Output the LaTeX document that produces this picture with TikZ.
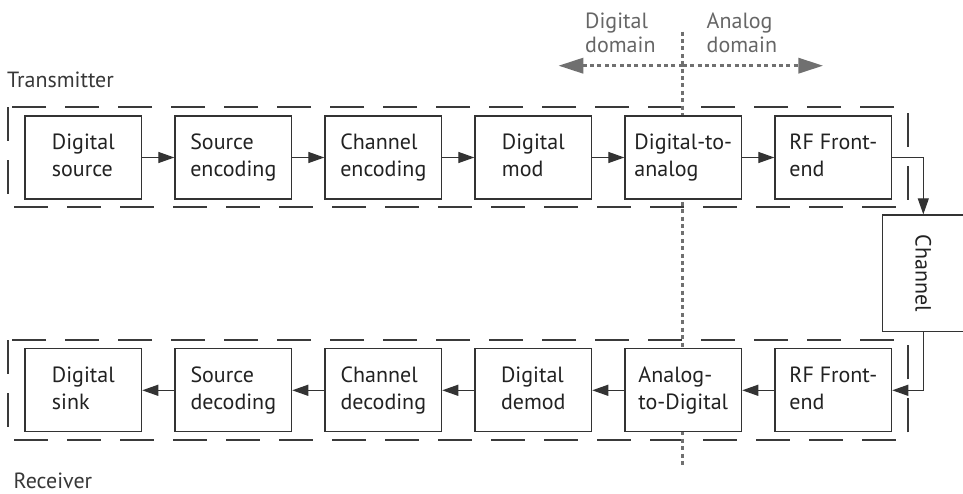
\documentclass[tikz,border=0pt]{standalone}
\usepackage{fontspec}
\usepackage{graphicx}
\setmainfont{PT Sans}
\usetikzlibrary{arrows.meta}
\definecolor{ink}{HTML}{222222}
\definecolor{boxline}{HTML}{333333}
\definecolor{grpline}{HTML}{3a3a3a}
\definecolor{dotgray}{HTML}{707070}
\definecolor{lblgray}{HTML}{666666}
\newcommand{\twolines}[2]{\vphantom{Dg}#1\\#2\vphantom{Dg}}
\begin{document}
\begin{tikzpicture}[x=1pt,y=-1pt,
  blk/.style={draw=boxline, line width=1.2pt, fill=white, minimum width=116.7pt,
    minimum height=83pt, inner sep=0pt, align=left, text=ink,
    font=\fontsize{22}{26.5}\selectfont},
  grp/.style={draw=grpline, line width=2pt, dash pattern=on 34pt off 19pt},
  flow/.style={draw=boxline, line width=1.2pt, -{Triangle[length=16pt,width=11pt]}},
  dom/.style={draw=dotgray, line width=3.5pt, dash pattern=on 4pt off 3.4pt},
  domarrow/.style={dom, -{Triangle[length=25pt,width=15pt]}},
  side/.style={text=ink!90, inner sep=0pt, font=\fontsize{22}{26.5}\selectfont},
  domlbl/.style={text=lblgray, inner sep=0pt, align=left, font=\fontsize{22}{24.4}\selectfont}
]
\useasboundingbox (0,0) rectangle (963,494);

% group outlines
\draw[grp] (8.3,107.3) rectangle (907.7,207.3);
\draw[grp] (8.3,340) rectangle (907.7,440);

% domain divider
\coordinate (dtop) at (682.7,31.7);
\coordinate (dbot) at (682.7,466);
\coordinate (dmid) at (682.7,65.7);
\coordinate (dleft) at (558.3,65.7);
\coordinate (dright) at (823.3,65.7);
\draw[dom] (dtop) -- (dbot);
\draw[domarrow] (dmid) -- (dleft);
\draw[domarrow] (dmid) -- (dright);
\node[domlbl, anchor=west] (digdom) at (585,35.2) {\twolines{Digital}{domain}};
\node[domlbl, anchor=west] (anadom) at (706.5,35.2) {\twolines{Analog}{domain}};

% side labels
\node[side, anchor=base west] (txlbl) at (7,88) {Transmitter};
\node[side, anchor=base west] (rxlbl) at (13.5,488.5) {Receiver};

% transmitter chain
\node[blk] (t1) at (83.3,157.5) {\twolines{Digital}{source}};
\node[blk] (t2) at (233.3,157.5) {\twolines{Source}{encoding}};
\node[blk] (t3) at (383.3,157.5) {\twolines{Channel}{encoding}};
\node[blk] (t4) at (533.3,157.5) {\twolines{Digital}{mod}};
\node[blk] (t5) at (683.3,157.5) {\twolines{Digital-to-}{analog}};
\node[blk] (t6) at (833.3,157.5) {\twolines{RF Front-}{end}};

% receiver chain
\node[blk] (r1) at (83.3,390.3) {\twolines{Digital}{sink}};
\node[blk] (r2) at (233.3,390.3) {\twolines{Source}{decoding}};
\node[blk] (r3) at (383.3,390.3) {\twolines{Channel}{decoding}};
\node[blk] (r4) at (533.3,390.3) {\twolines{Digital}{demod}};
\node[blk] (r5) at (683.3,390.3) {\twolines{Analog-}{to-Digital}};
\node[blk] (r6) at (833.3,390.3) {\twolines{RF Front-}{end}};

% channel (text turned to read downwards)
\node[blk, minimum width=81.3pt, minimum height=116.7pt, align=center]
  (ch) at (923.3,273.3) {\rotatebox{-90}{Channel}};

% connectors
\draw[flow] (t1) -- (t2);
\draw[flow] (t2) -- (t3);
\draw[flow] (t3) -- (t4);
\draw[flow] (t4) -- (t5);
\draw[flow] (t5) -- (t6);
\draw[flow] (t6.east) -| (ch.north);
\draw[flow] (ch.south) |- (r6.east);
\draw[flow] (r6) -- (r5);
\draw[flow] (r5) -- (r4);
\draw[flow] (r4) -- (r3);
\draw[flow] (r3) -- (r2);
\draw[flow] (r2) -- (r1);
\end{tikzpicture}
\end{document}
